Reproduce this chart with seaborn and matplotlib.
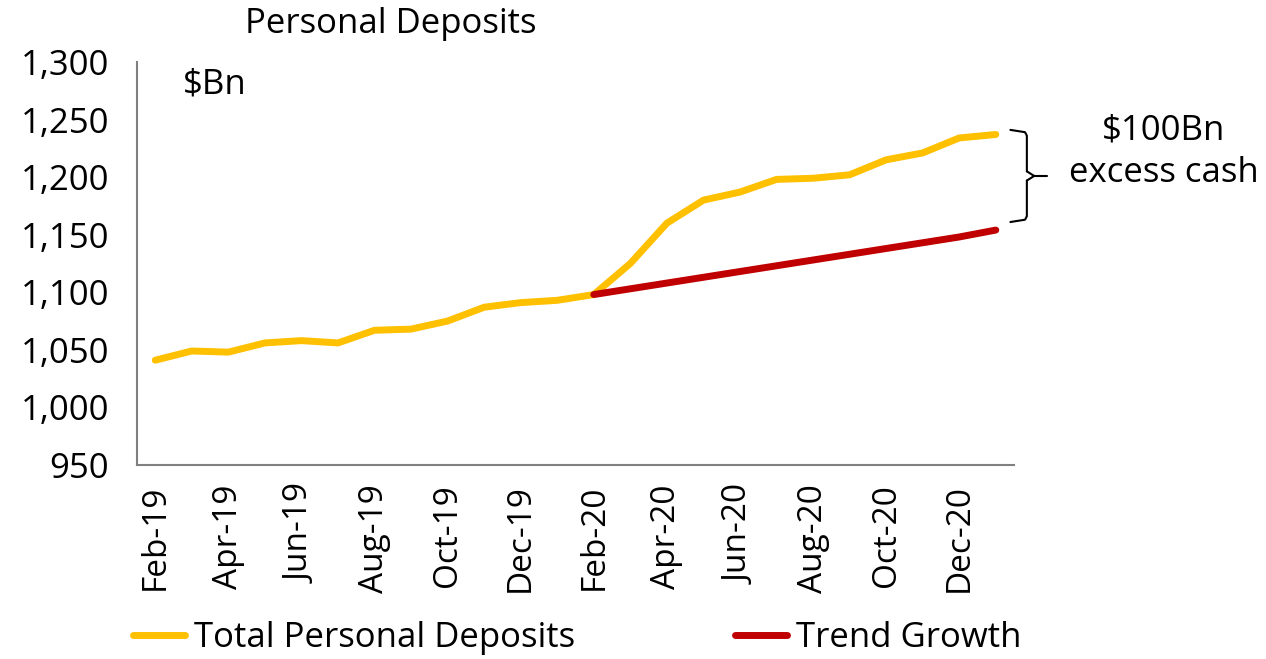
import numpy as np
import pandas as pd
import matplotlib.pyplot as plt
import seaborn as sns
from matplotlib.ticker import FuncFormatter

sns.set_style('white')
plt.rcParams['font.family'] = ['Open Sans', 'DejaVu Sans']
plt.rcParams['text.color'] = 'black'
plt.rcParams['xtick.color'] = 'black'
plt.rcParams['ytick.color'] = 'black'

months = ['Feb-19', 'Mar-19', 'Apr-19', 'May-19', 'Jun-19', 'Jul-19', 'Aug-19', 'Sep-19',
          'Oct-19', 'Nov-19', 'Dec-19', 'Jan-20', 'Feb-20', 'Mar-20', 'Apr-20', 'May-20',
          'Jun-20', 'Jul-20', 'Aug-20', 'Sep-20', 'Oct-20', 'Nov-20', 'Dec-20', 'Jan-21']
total_deposits = [1041, 1049, 1048, 1056, 1058, 1056, 1067, 1068, 1075, 1087, 1091, 1093,
                  1098, 1125, 1160, 1180, 1187, 1198, 1199, 1202, 1215, 1221, 1234, 1237]
trend_months = months[12:]
trend_growth = [1098, 1103, 1108, 1113, 1118, 1123, 1128, 1133, 1138, 1143, 1148, 1154]

df = pd.DataFrame({'month': months, 'total': total_deposits})
df['pos'] = np.arange(len(months))
trend = pd.DataFrame({'month': trend_months, 'trend': trend_growth})
trend['pos'] = [months.index(m) for m in trend_months]

fig = plt.figure(figsize=(12.66, 6.59), dpi=100)
ax = fig.add_axes([0.1082, 0.2944, 0.6928, 0.6116])

sns.lineplot(data=df, x='pos', y='total', ax=ax, color='#FFC000', linewidth=5,
             label='Total Personal Deposits', solid_capstyle='round')
sns.lineplot(data=trend, x='pos', y='trend', ax=ax, color='#C00000', linewidth=5,
             label='Trend Growth', solid_capstyle='round')

ax.set_xlim(-0.5, len(months) - 0.5)
ax.set_ylim(950, 1300)
ax.set_yticks(range(950, 1301, 50))
ax.yaxis.set_major_formatter(FuncFormatter(lambda v, p: f'{int(v):,}'))
ax.set_xlabel('')
ax.set_ylabel('')

# labels at every other month, tick marks on category boundaries
ax.set_xticks(range(0, len(months), 2))
ax.set_xticklabels(months[::2], rotation=90)
ax.set_xticks(np.arange(-0.5, len(months), 2), minor=True)
ax.tick_params(axis='x', which='major', length=0, labelsize=24, pad=14)
ax.tick_params(axis='x', which='minor', length=11, width=1.5, color='#808080', direction='out')
ax.tick_params(axis='y', length=11, width=1.5, color='#808080', direction='out',
               labelsize=25, pad=9, labelcolor='black')
ax.tick_params(axis='x', labelcolor='black')

for s in ['top', 'right']:
    ax.spines[s].set_visible(False)
for s in ['left', 'bottom']:
    ax.spines[s].set_color('#808080')
    ax.spines[s].set_linewidth(1.5)

fig.text(0.309, 0.964, 'Personal Deposits', fontsize=25, ha='center', va='center')
ax.text(0.75, 1280, '$Bn', fontsize=25, ha='left', va='center')

# brace showing gap between actual and trend at the end
top = total_deposits[-1] + 4
bot = trend_growth[-1] + 7
mid = (top + bot) / 2
xb = 23.85
ax.plot([23.4, xb - 0.05, xb, xb], [top, top - 2, top - 5, mid + 4], color='black', lw=1.5, clip_on=False)
ax.plot([xb, xb + 0.2, xb], [mid + 4, mid, mid - 4], color='black', lw=1.5, clip_on=False)
ax.plot([xb, xb, xb - 0.05, 23.4], [mid - 4, bot + 5, bot + 2, bot], color='black', lw=1.5, clip_on=False)
ax.plot([xb + 0.2, xb + 0.55], [mid, mid], color='black', lw=1.5, clip_on=False)
ax.text(27.6, 1222, '$100Bn\nexcess cash', fontsize=25, ha='center', va='center',
        linespacing=1.3)

ax.legend(loc='center left', bbox_to_anchor=(-0.02, -0.43), ncol=2, frameon=False,
          fontsize=25, handlelength=1.5, handletextpad=0.25, columnspacing=4.6,
          borderaxespad=0)

fig.savefig('out.png', dpi=100)
